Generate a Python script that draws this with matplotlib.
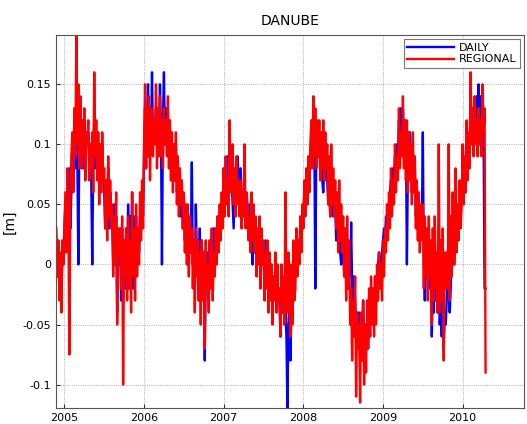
import numpy as np
import matplotlib
matplotlib.use("Agg")
import matplotlib.pyplot as plt

# sampling of the series (decimal years)
start_year = 2004.9
step = 0.0125

# DAILY solution [m], one row = 0.1 year
daily = [
    0.02, -0.01, 0.01, -0.02, 0.00, -0.03, 0.01, 0.00,
    0.03, 0.05, 0.02, 0.07, 0.04, 0.08, 0.03, 0.06,
    0.10, 0.07, 0.12, 0.08, 0.13, 0.09, 0.00, 0.10,
    0.12, 0.09, 0.11, 0.08, 0.12, 0.09, 0.11, 0.10,
    0.11, 0.08, 0.10, 0.07, 0.00, 0.09, 0.12, 0.08,
    0.09, 0.11, 0.07, 0.10, 0.06, 0.09, 0.10, 0.07,
    0.06, 0.03, 0.07, 0.04, 0.08, 0.03, 0.06, 0.04,
    0.04, 0.00, 0.05, 0.01, 0.04, -0.04, 0.03, 0.00,
    0.02, -0.03, 0.03, -0.01, 0.02, -0.02, 0.03, 0.00,
    0.05, 0.00, 0.04, -0.01, 0.06, -0.02, 0.04, 0.01,
    0.04, 0.00, 0.03, 0.01, 0.04, 0.03, 0.06, 0.04,
    0.09, 0.13, 0.08, 0.12, 0.15, 0.09, 0.13, 0.10,
    0.16, 0.10, 0.12, 0.11, 0.13, 0.10, 0.12, 0.11,
    0.15, 0.11, 0.00, 0.12, 0.16, 0.10, 0.13, 0.11,
    0.12, 0.09, 0.11, 0.08, 0.10, 0.08, 0.09, 0.07,
    0.10, 0.06, 0.08, 0.05, 0.07, 0.04, 0.06, 0.03,
    0.05, 0.02, 0.04, 0.01, 0.04, 0.00, 0.03, 0.02,
    0.085, 0.00, 0.02, -0.02, 0.05, 0.01, 0.02, -0.03,
    0.03, -0.02, 0.02, -0.01, 0.01, -0.08, 0.00, -0.02,
    0.01, -0.03, 0.02, -0.01, 0.02, 0.00, 0.03, 0.00,
    0.03, 0.01, 0.04, 0.02, 0.04, 0.03, 0.05, 0.04,
    0.08, 0.05, 0.07, 0.06, 0.09, 0.07, 0.10, 0.08,
    0.07, 0.05, 0.03, 0.06, 0.06, 0.08, 0.09, 0.07,
    0.05, 0.08, 0.06, 0.04, 0.05, 0.06, 0.04, 0.05,
    0.04, 0.03, 0.05, 0.02, 0.04, 0.00, 0.03, 0.01,
    0.03, 0.00, 0.02, 0.01, 0.02, -0.01, 0.01, 0.00,
    0.01, -0.02, 0.02, -0.01, 0.01, -0.03, 0.00, -0.02,
    0.00, -0.04, -0.01, -0.02, -0.01, -0.03, -0.02, -0.03,
    -0.03, -0.06, -0.02, -0.04, -0.01, -0.05, -0.04, -0.06,
    -0.12, -0.05, -0.03, -0.08, -0.04, -0.02, 0.00, -0.01,
    -0.01, 0.02, 0.00, 0.02, 0.01, 0.03, 0.04, 0.03,
    0.04, 0.06, 0.05, 0.07, 0.05, 0.08, 0.07, 0.09,
    0.10, 0.12, 0.09, 0.11, -0.02, 0.10, 0.11, 0.09,
    0.10, 0.08, 0.09, 0.07, 0.06, 0.08, 0.09, 0.07,
    0.07, 0.05, 0.06, 0.04, 0.06, 0.05, 0.04, 0.05,
    0.05, 0.02, 0.04, 0.03, 0.04, 0.01, 0.00, 0.02,
    0.02, -0.01, 0.01, 0.03, 0.00, -0.02, 0.01, -0.01,
    0.035, -0.02, -0.04, -0.01, -0.03, -0.06, -0.04, -0.05,
    -0.04, -0.08, -0.05, -0.07, -0.03, -0.06, -0.05, -0.07,
    -0.05, -0.07, -0.04, -0.06, -0.02, -0.04, -0.03, -0.05,
    -0.01, -0.03, -0.02, 0.00, 0.01, -0.01, 0.00, 0.01,
    0.02, 0.03, 0.02, 0.04, 0.03, 0.05, 0.04, 0.06,
    0.07, 0.06, 0.08, 0.07, 0.09, 0.08, 0.10, 0.09,
    0.12, 0.10, 0.13, 0.11, 0.13, 0.10, 0.12, 0.11,
    0.00, 0.08, 0.10, 0.11, 0.09, 0.06, 0.08, 0.07,
    0.08, 0.04, 0.06, 0.05, 0.05, 0.02, 0.04, 0.03,
    0.11, 0.00, -0.03, 0.01, 0.02, -0.01, 0.00, -0.02,
    0.01, -0.06, -0.02, -0.04, 0.02, -0.03, -0.01, -0.04,
    0.00, -0.05, -0.03, -0.06, -0.01, -0.07, -0.04, -0.05,
    -0.03, 0.00, -0.02, -0.04, -0.02, 0.01, 0.02, 0.00,
    0.01, 0.04, 0.02, 0.03, 0.03, 0.05, 0.04, 0.06,
    0.08, 0.06, 0.07, 0.09, 0.11, 0.08, 0.09, 0.10,
    0.14, 0.11, 0.12, 0.13, 0.13, 0.11, 0.14, 0.12,
    0.15, 0.10, 0.14, 0.12, 0.14, 0.11, -0.02, -0.02,
]

# REGIONAL solution [m], one row = 0.1 year
regional = [
    0.03, -0.01, 0.02, -0.03, 0.01, -0.04, 0.02, 0.00,
    0.03, 0.06, 0.01, 0.08, 0.04, -0.075, 0.05, 0.09,
    0.11, 0.06, 0.13, 0.09, 0.19, 0.10, 0.15, 0.08,
    0.14, 0.08, 0.12, 0.09, 0.13, 0.07, 0.11, 0.10,
    0.12, 0.07, 0.10, 0.08, 0.11, 0.06, 0.16, 0.09,
    0.12, 0.07, 0.11, 0.05, 0.10, 0.06, 0.11, 0.07,
    0.08, 0.03, 0.07, 0.02, 0.09, 0.04, 0.07, 0.03,
    0.05, -0.01, 0.04, 0.00, 0.06, -0.05, 0.03, 0.01,
    0.03, -0.02, 0.04, -0.10, 0.02, -0.01, 0.03, -0.03,
    0.04, -0.02, 0.02, -0.04, 0.06, -0.01, 0.03, -0.03,
    0.05, -0.01, 0.03, 0.00, 0.06, 0.02, 0.07, 0.03,
    0.10, 0.15, 0.08, 0.13, 0.09, 0.14, 0.07, 0.12,
    0.13, 0.09, 0.12, 0.10, 0.15, 0.08, 0.13, 0.09,
    0.14, 0.09, 0.12, 0.08, 0.13, 0.10, 0.12, 0.09,
    0.14, 0.08, 0.12, 0.07, 0.11, 0.06, 0.10, 0.07,
    0.11, 0.05, 0.09, 0.04, 0.08, 0.05, 0.07, 0.03,
    0.06, 0.01, 0.05, 0.00, 0.05, -0.01, 0.04, 0.01,
    0.03, -0.02, 0.02, -0.04, 0.03, -0.01, 0.02, -0.03,
    0.01, -0.05, 0.02, -0.03, 0.01, -0.07, 0.02, -0.02,
    0.00, -0.04, 0.02, -0.02, 0.03, -0.03, 0.01, -0.01,
    0.03, 0.00, 0.04, 0.01, 0.05, 0.02, 0.06, 0.03,
    0.08, 0.04, 0.09, 0.05, 0.07, 0.04, 0.12, 0.06,
    0.06, 0.10, 0.05, 0.08, 0.04, 0.09, 0.05, 0.07,
    0.04, 0.07, 0.03, 0.06, 0.04, 0.10, 0.03, 0.06,
    0.05, 0.02, 0.04, 0.01, 0.06, 0.02, 0.05, 0.01,
    0.04, -0.01, 0.03, 0.00, 0.04, -0.02, 0.03, 0.00,
    0.02, -0.03, 0.01, -0.02, 0.02, -0.04, 0.01, -0.03,
    0.00, -0.05, -0.01, -0.03, 0.01, -0.04, 0.00, -0.03,
    -0.02, -0.06, 0.00, -0.04, -0.01, -0.05, 0.06, -0.02,
    -0.04, 0.01, -0.03, -0.06, 0.00, -0.05, 0.02, -0.03,
    -0.02, 0.03, -0.01, 0.02, 0.00, 0.04, 0.01, 0.05,
    0.03, 0.07, 0.04, 0.08, 0.05, 0.09, 0.06, 0.10,
    0.12, 0.08, 0.14, 0.09, 0.13, 0.08, 0.12, 0.09,
    0.12, 0.07, 0.11, 0.08, 0.12, 0.07, 0.11, 0.08,
    0.10, 0.05, 0.09, 0.04, 0.10, 0.05, 0.08, 0.04,
    0.07, 0.03, 0.06, 0.01, 0.07, 0.02, 0.05, 0.01,
    0.04, -0.01, 0.03, -0.03, 0.04, -0.02, 0.02, -0.05,
    -0.02, -0.08, -0.03, -0.06, -0.01, -0.11, -0.04, -0.07,
    -0.05, -0.115, -0.04, -0.08, -0.03, -0.10, -0.05, -0.09,
    -0.03, -0.07, -0.02, -0.06, -0.01, -0.05, -0.02, -0.06,
    -0.01, -0.05, 0.00, -0.03, 0.01, -0.02, 0.00, -0.03,
    0.02, -0.01, 0.03, 0.01, 0.05, 0.02, 0.06, 0.03,
    0.08, 0.04, 0.07, 0.05, 0.10, 0.06, 0.09, 0.07,
    0.13, 0.08, 0.11, 0.09, 0.14, 0.08, 0.12, 0.07,
    0.12, 0.06, 0.11, 0.07, 0.10, 0.05, 0.11, 0.06,
    0.09, 0.03, 0.07, 0.02, 0.06, 0.01, 0.05, 0.02,
    0.05, -0.02, 0.04, -0.01, 0.03, -0.03, 0.04, -0.01,
    0.02, -0.05, 0.03, -0.03, 0.04, -0.02, 0.01, -0.04,
    0.10, -0.04, 0.02, -0.03, 0.03, -0.08, 0.01, -0.02,
    0.01, -0.02, 0.10, -0.03, 0.04, -0.01, 0.06, 0.00,
    0.00, 0.08, 0.01, 0.05, 0.02, 0.07, 0.03, 0.05,
    0.10, 0.05, 0.09, 0.06, 0.12, 0.07, 0.11, 0.08,
    0.16, 0.10, 0.13, 0.09, 0.14, 0.10, 0.12, 0.09,
    0.13, 0.10, 0.12, 0.09, 0.15, 0.11, 0.13, -0.09,
]

years = [2005, 2006, 2007, 2008, 2009, 2010]
y_ticks = [-0.1, -0.05, 0, 0.05, 0.1, 0.15]
y_tick_labels = ["-0.1", "-0.05", "0", "0.05", "0.1", "0.15"]

t = start_year + step * np.arange(len(regional))

fig = plt.figure(figsize=(5.27, 4.24), dpi=100)
ax = fig.add_axes([0.1063, 0.0377, 0.888, 0.8797])

ax.plot(t, daily, color="#0000ff", lw=1.7, label="DAILY")
ax.plot(t, regional, color="#ff0000", lw=1.7, label="REGIONAL")

ax.set_xlim(2004.895, 2010.77)
ax.set_ylim(-0.1195, 0.191)
ax.set_xticks(years)
ax.set_xticklabels([str(y) for y in years])
ax.set_yticks(y_ticks)
ax.set_yticklabels(y_tick_labels)

# matlab-like look
ax.grid(True, linestyle=":", color="#999999", lw=0.6)
ax.tick_params(direction="in", labelsize=8, length=3, color="#333333")
for s in ax.spines.values():
    s.set_color("#555555")
    s.set_linewidth(0.8)

ax.set_title("DANUBE", fontsize=10, pad=7)
ax.set_ylabel("[m]", fontsize=10, labelpad=4)

leg = ax.legend(loc="upper right", fontsize=8, handlelength=4.2, fancybox=False,
                borderpad=0.3, labelspacing=0.15, borderaxespad=0.4, handletextpad=0.4)
leg.get_frame().set_edgecolor("#555555")
leg.get_frame().set_linewidth(0.8)

fig.savefig("out.png", dpi=100)
